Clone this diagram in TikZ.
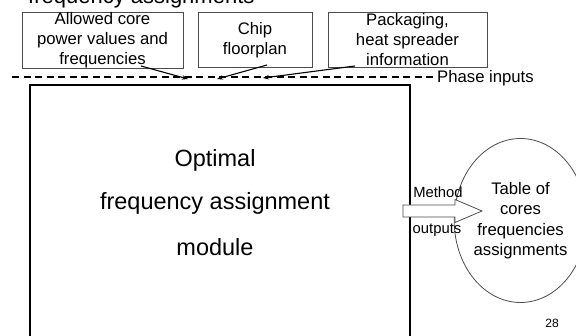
\documentclass[tikz,border=0pt]{standalone}
\usepackage{fontspec}
\setmainfont{Liberation Sans}
\usetikzlibrary{arrows.meta,shapes.geometric}
\tikzset{
  inbox/.style={draw=black!70, line width=0.8pt, inner sep=0pt, align=center,
    font=\fontsize{16.7}{20}\selectfont, minimum height=55pt},
  bigtxt/.style={font=\fontsize{23.5}{28}\selectfont, inner sep=0pt},
  smalltxt/.style={font=\fontsize{14.8}{18}\selectfont, inner sep=0pt},
  feed/.style={line width=1.1pt, -{Stealth[length=6pt,width=4.5pt]}},
}
\begin{document}
\begin{tikzpicture}[x=1pt,y=-1pt]
\clip (0,0) rectangle (576,336);
\fill[white] (0,0) rectangle (576,336);
% title (cut off)
\node[anchor=base west, inner sep=0pt, font=\fontsize{22}{26}\selectfont] (title) at (28,4) {frequency assignments};
% input boxes
\node[inbox, minimum width=161pt] (b1) at (102.5,40.5) {Allowed core\\power values and\\frequencies};
\node[inbox, minimum width=114pt] (b2) at (255,40) {Chip\\floorplan};
\node[inbox, minimum width=159pt] (b3) at (407.5,39.5) {Packaging,\\heat spreader\\information};
% main module
\node[draw, line width=1.6pt, minimum width=380pt, minimum height=320pt, inner sep=0pt] (main) at (220,245) {};
\node[bigtxt] (t1) at (215,160) {Optimal};
\node[bigtxt] (t2) at (215,203) {frequency assignment};
\node[bigtxt] (t3) at (215,247) {module};
% phase inputs dashed line
\node[anchor=west, inner sep=0pt, font=\fontsize{16.7}{20}\selectfont] (phase) at (437,78) {Phase inputs};
\coordinate (dl) at (12,77);
\draw[line width=1.1pt, dash pattern=on 7pt off 4.5pt] (dl) -- (phase.west |- dl);
% feed arrows
\coordinate (s1) at (141,66);
\coordinate (e1) at (188,79);
\coordinate (s2) at (267,65);
\coordinate (e2) at (217,79);
\coordinate (s3) at (355,66);
\coordinate (e3) at (263,78);
\draw[feed] (s1) -- (e1);
\draw[feed] (s2) -- (e2);
\draw[feed] (s3) -- (e3);
% output
\node[draw=black!70, line width=0.8pt, ellipse, minimum width=109pt, minimum height=164pt, inner sep=0pt, align=center, font=\fontsize{16.7}{20.5}\selectfont] (table) at (520.5,220.5) {Table of\\cores\\frequencies\\assignments};
\coordinate (a1) at (403,205);
\coordinate (a2) at (455,205);
\coordinate (a3) at (455,199.5);
\coordinate (a4) at (482,211);
\coordinate (a5) at (455,222.5);
\coordinate (a6) at (455,217);
\coordinate (a7) at (403,217);
\draw[draw=black!70, fill=white, line width=0.8pt] (a1) -- (a2) -- (a3) -- (a4) -- (a5) -- (a6) -- (a7) -- cycle;
\node[smalltxt] (m1) at (438,192) {Method};
\node[smalltxt] (m2) at (437,230) {outputs};
\node[inner sep=0pt, font=\fontsize{12}{14}\selectfont] (pg) at (552,323) {28};
\end{tikzpicture}
\end{document}
